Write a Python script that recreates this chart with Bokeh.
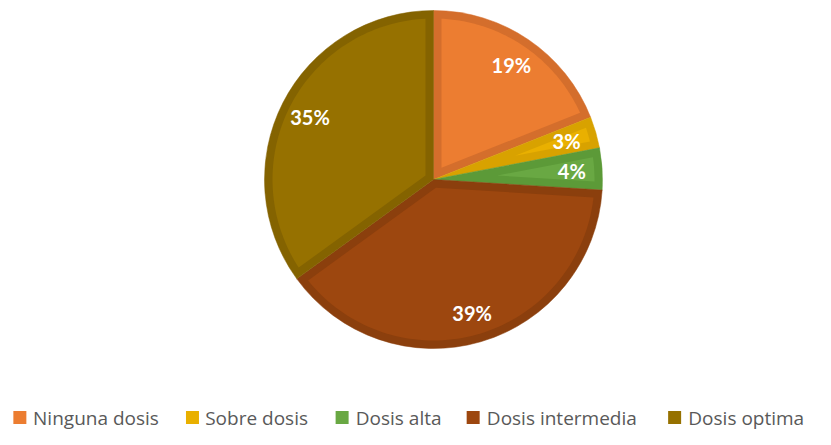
import numpy as np
from bokeh.plotting import figure
from bokeh.models import Range1d, ColumnDataSource
from bokeh.embed import file_html
from bokeh.resources import INLINE
from bokeh.core.properties import value

# ---- data ----
categories = ["Ninguna dosis", "Sobre dosis", "Dosis alta", "Dosis intermedia", "Dosis optima"]
values = [19, 3, 4, 39, 35]
labels = ["19%", "3%", "4%", "39%", "35%"]
fill_colors = ["#EC7D31", "#E9B000", "#69A843", "#9D470F", "#967100"]
border_colors = ["#D46E2C", "#D8A200", "#5C9A38", "#8B3F0D", "#846300"]

# legend layout (px)
legend_sq_x = [19.5, 196, 349, 483, 689]
legend_tx_x = [33, 209, 363, 497, 703]

# ---- layout ----
W, H = 815, 429
LEG_SCALE = 0.978


def lx(x):
    return 13 + (x - 13) * LEG_SCALE


def py(y):
    return H - y


cx, cy = 433, py(179)
R = 169.0
D = 8.0  # inner border width

p = figure(width=W, height=H, x_range=Range1d(0, W), y_range=Range1d(0, H),
           output_backend="svg", toolbar_location=None, min_border=0,
           background_fill_color="white", border_fill_color="white")
p.axis.visible = False
p.grid.visible = False
p.outline_line_color = None

vals = np.array(values, dtype=float)
frac = vals / vals.sum()
cum = np.concatenate([[0], np.cumsum(frac)])
a_start = np.pi / 2 - cum[:-1] * 2 * np.pi
a_end = np.pi / 2 - cum[1:] * 2 * np.pi

# outer wedges (border colour)
src = ColumnDataSource(dict(start=a_end, end=a_start, color=border_colors))
p.wedge(x=cx, y=cy, radius=R, start_angle="start", end_angle="end",
        fill_color="color", line_color="color", line_width=0.5, source=src)

# inner (inset) fills
xs, ys = [], []
for s, e in zip(a_start, a_end):
    th = s - e
    m = (s + e) / 2
    apex = D / np.sin(th / 2)
    delta = np.arcsin(D / (R - D))
    angs = np.linspace(s - delta, e + delta, 80)
    px_ = [cx + apex * np.cos(m)] + list(cx + (R - D) * np.cos(angs))
    py_ = [cy + apex * np.sin(m)] + list(cy + (R - D) * np.sin(angs))
    xs.append(px_)
    ys.append(py_)
p.patches(xs=xs, ys=ys, fill_color=fill_colors, line_color=None)

# labels
mid = (a_start + a_end) / 2
lr = 0.82 * R
p.text(x=list(cx + lr * np.cos(mid)), y=list(cy + lr * np.sin(mid)), text=labels,
       text_color="white", text_font=value("Lato"), text_font_style="bold",
       text_font_size="20px", text_align="center", text_baseline="middle")

# legend
ly = py(417)
p.scatter(x=[lx(v) for v in legend_sq_x], y=[ly] * 5, marker="square", size=13,
          fill_color=fill_colors, line_color=None)
p.text(x=[lx(v) for v in legend_tx_x], y=[ly] * 5, text=categories,
       text_color="#595959", text_font=value("Open Sans"), text_font_size="19px",
       text_align="left", text_baseline="middle")

open("out.html", "w").write(file_html(p, INLINE))
